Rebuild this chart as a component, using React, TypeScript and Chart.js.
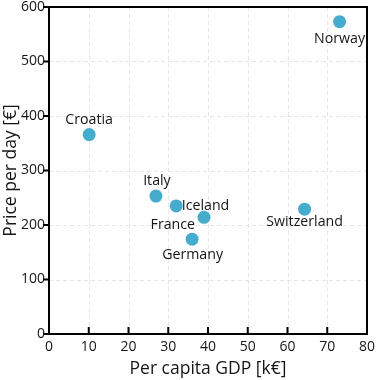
import React, { useEffect, useRef } from "react";
import { Chart, registerables } from "chart.js";

Chart.register(...registerables);

const countries = ["Norway", "Croatia", "Italy", "Iceland", "France", "Germany", "Switzerland"];
const gdp = [73.1, 10.1, 26.9, 32.0, 39.0, 36.0, 64.3];
const pricePerDay = [573, 366, 253, 235, 214, 174, 229];
const xTicks = [0, 10, 20, 30, 40, 50, 60, 70, 80];
const yTicks = [0, 100, 200, 300, 400, 500, 600];

const FONT = "'Open Sans', 'DejaVu Sans', sans-serif";
const POINT_COLOR = "rgb(70,172,206)";

// label placement: [horizontal align, dx, baseline dy]
const placement: Record<string, [CanvasTextAlign, number, number]> = {
  Norway: ["center", 0, 21],
  Croatia: ["center", 0, -10.5],
  Italy: ["center", 1, -11],
  Iceland: ["left", 5.5, 4],
  France: ["right", -9, 12],
  Germany: ["center", 0.5, 20],
  Switzerland: ["center", 0, 17],
};

const framePlugin = {
  id: "frame",
  beforeDatasetsDraw(chart: any) {
    const { ctx, chartArea: a, scales } = chart;
    ctx.save();
    ctx.strokeStyle = "#e6e6e6";
    ctx.lineWidth = 1;
    ctx.setLineDash([4, 3]);
    for (const v of xTicks) {
      if (v === 0 || v === 80) continue;
      const x = Math.round(scales.x.getPixelForValue(v)) + 0.5;
      ctx.beginPath();
      ctx.moveTo(x, a.top);
      ctx.lineTo(x, a.bottom);
      ctx.stroke();
    }
    for (const v of yTicks) {
      if (v === 0 || v === 600) continue;
      const y = Math.round(scales.y.getPixelForValue(v)) + 0.5;
      ctx.beginPath();
      ctx.moveTo(a.left, y);
      ctx.lineTo(a.right, y);
      ctx.stroke();
    }
    ctx.restore();
  },
  afterDatasetsDraw(chart: any) {
    const { ctx, chartArea: a, scales } = chart;
    ctx.save();
    const meta = chart.getDatasetMeta(0);
    ctx.font = `14.2px ${FONT}`;
    ctx.fillStyle = "#151515";
    ctx.textBaseline = "alphabetic";
    meta.data.forEach((el: any, i: number) => {
      const name = countries[i];
      const p = placement[name] || ["center", 0, 18];
      ctx.textAlign = p[0];
      ctx.fillText(name, el.x + p[1], el.y + p[2]);
    });
    ctx.strokeStyle = "#000";
    ctx.lineWidth = 2;
    ctx.setLineDash([]);
    ctx.strokeRect(a.left, a.top, a.right - a.left, a.bottom - a.top);
    for (const v of xTicks) {
      const x = scales.x.getPixelForValue(v);
      ctx.beginPath();
      ctx.moveTo(x, a.bottom);
      ctx.lineTo(x, a.bottom - 7);
      ctx.stroke();
    }
    for (const v of yTicks) {
      const y = scales.y.getPixelForValue(v);
      ctx.beginPath();
      ctx.moveTo(a.left, y);
      ctx.lineTo(a.left - 6, y);
      ctx.stroke();
    }
    ctx.restore();
  },
};

export default function App() {
  const ref = useRef<HTMLCanvasElement | null>(null);
  useEffect(() => {
    document.body.style.margin = "0";
    const canvas = ref.current;
    if (!canvas) return;
    const chart = new Chart(canvas, {
      type: "scatter",
      data: {
        datasets: [
          {
            data: countries.map((_, i) => ({ x: gdp[i], y: pricePerDay[i] })),
            backgroundColor: POINT_COLOR,
            borderColor: POINT_COLOR,
            pointRadius: 6.5,
            borderWidth: 0,
          },
        ],
      },
      options: {
        responsive: false,
        animation: false,
        devicePixelRatio: 1,
        layout: { padding: { top: 7, right: 10, left: 0, bottom: 0 } },
        plugins: { legend: { display: false }, tooltip: { enabled: false } },
        scales: {
          x: {
            type: "linear",
            min: 0,
            max: 80,
            afterBuildTicks: (s: any) => {
              s.ticks = xTicks.map((v) => ({ value: v }));
            },
            afterFit: (s: any) => {
              s.height = 46;
              s.paddingLeft = 0;
              s.paddingRight = 0;
            },
            ticks: { font: { family: FONT, size: 14 }, color: "#151515", padding: 5, maxRotation: 0 },
            grid: { display: false, drawTicks: false, tickLength: 0 },
            border: { display: false },
            title: {
              display: true,
              text: "Per capita GDP [k€]",
              font: { family: FONT, size: 17.5 },
              color: "#151515",
              padding: { top: 0, bottom: 0 },
            },
          },
          y: {
            type: "linear",
            min: 0,
            max: 600,
            afterBuildTicks: (s: any) => {
              s.ticks = yTicks.map((v) => ({ value: v }));
            },
            afterFit: (s: any) => {
              s.width = 49;
              s.paddingTop = 0;
              s.paddingBottom = 0;
            },
            ticks: { font: { family: FONT, size: 14 }, color: "#151515", padding: 4 },
            grid: { display: false, drawTicks: false, tickLength: 0 },
            border: { display: false },
            title: {
              display: true,
              text: "Price per day [€]",
              font: { family: FONT, size: 17.5 },
              color: "#151515",
              padding: { top: 1, bottom: 0 },
            },
          },
        },
      },
      plugins: [framePlugin],
    });
    return () => chart.destroy();
  }, []);
  return (
    <div style={{ width: 377, height: 380 }}>
      <canvas ref={ref} width={377} height={380} style={{ display: "block" }} />
    </div>
  );
}
